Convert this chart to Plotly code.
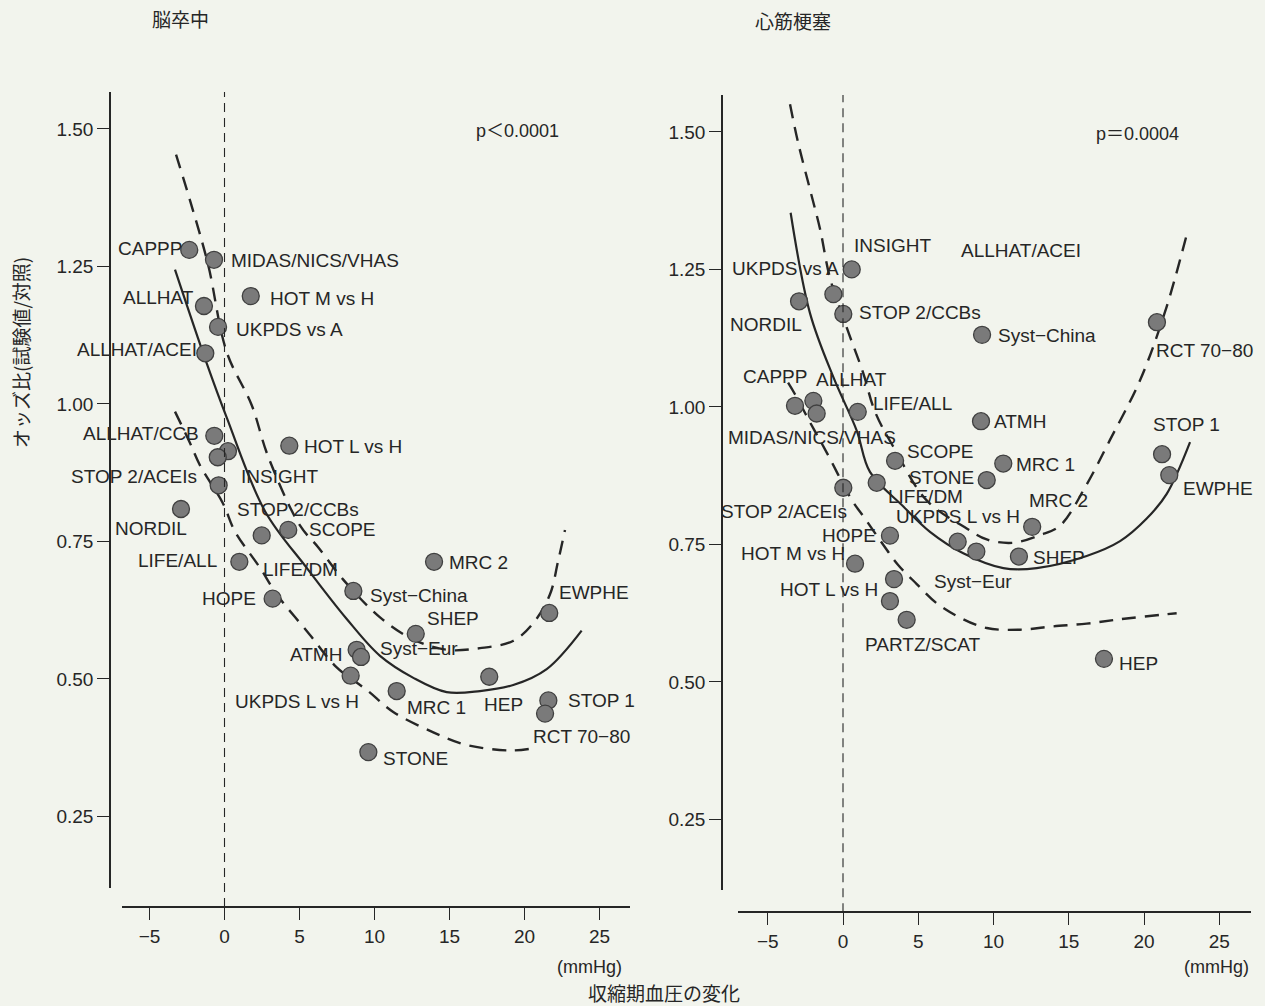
import plotly.graph_objects as go

# ---------------- data ----------------
stroke_names = ["CAPPP", "MIDAS/NICS/VHAS", "ALLHAT", "HOT M vs H", "UKPDS vs A", "ALLHAT/ACEI",
                "ALLHAT/CCB", "HOT L vs H", "INSIGHT", "STOP 2/ACEIs", "STOP 2/CCBs", "NORDIL",
                "LIFE/DM", "SCOPE", "LIFE/ALL", "HOPE", "MRC 2", "Syst\u2212China", "SHEP", "EWPHE",
                "ATMH", "Syst\u2212Eur", "UKPDS L vs H", "MRC 1", "HEP", "STOP 1", "RCT 70\u221280", "STONE"]
stroke_sbp = [-2.35, -0.70, -1.37, 1.75, -0.43, -1.28,
              -0.68, 4.32, 0.23, -0.45, -0.39, -2.90,
              2.48, 4.25, 0.99, 3.21, 13.97, 8.59, 12.75, 21.65,
              8.81, 9.10, 8.41, 11.48, 17.65, 21.59, 21.37, 9.59]
stroke_or = [1.280, 1.262, 1.178, 1.196, 1.140, 1.092,
             0.942, 0.924, 0.914, 0.903, 0.852, 0.809,
             0.761, 0.771, 0.713, 0.646, 0.713, 0.660, 0.582, 0.620,
             0.553, 0.540, 0.506, 0.478, 0.504, 0.461, 0.437, 0.367]

stroke_fit_x = [-3.30, -1.19, 0.15, 2.70, 5.48, 8.15, 10.37, 12.59, 14.81, 17.03, 19.25, 21.48, 23.81]
stroke_fit_y = [1.244, 1.074, 0.975, 0.805, 0.702, 0.609, 0.542, 0.502, 0.476, 0.478, 0.489, 0.518, 0.588]
stroke_up_x = [-3.23, -2.30, -1.10, 0.15, 1.81, 2.90, 5.03, 6.23, 7.90, 10.37, 12.57, 14.83, 17.03,
               19.23, 20.57, 21.70, 22.23, 22.70]
stroke_up_y = [1.453, 1.370, 1.254, 1.094, 0.998, 0.905, 0.779, 0.740, 0.681, 0.612, 0.572, 0.553, 0.556,
               0.569, 0.601, 0.654, 0.713, 0.771]
stroke_lo_x = [-3.30, -2.30, -1.63, -0.10, 0.70, 2.37, 3.48, 5.70, 7.48, 9.48, 11.25, 13.92, 16.15,
               19.03, 20.59]
stroke_lo_y = [0.986, 0.929, 0.888, 0.819, 0.768, 0.702, 0.654, 0.580, 0.521, 0.480, 0.440, 0.403, 0.380,
               0.370, 0.374]

mi_names = ["INSIGHT", "UKPDS vs A", "NORDIL", "STOP 2/CCBs", "Syst\u2212China", "RCT 70\u221280",
            "CAPPP", "ALLHAT", "MIDAS/NICS/VHAS", "LIFE/ALL", "ATMH", "STOP 1", "SCOPE", "MRC 1",
            "STONE", "STOP 2/ACEIs", "LIFE/DM", "EWPHE", "MRC 2", "HOPE", "UKPDS L vs H",
            "Syst\u2212Eur", "SHEP", "HOT M vs H", "HOT L vs H", "ALLHAT/ACEI", "PARTZ/SCAT", "HEP"]
mi_sbp = [0.58, -0.64, -2.92, 0.02, 9.24, 20.86,
          -3.19, -1.97, -1.75, 0.98, 9.17, 21.20, 3.46, 10.65,
          9.55, 0.02, 2.24, 21.68, 12.57, 3.12, 7.62,
          8.86, 11.69, 0.80, 3.39, 3.12, 4.23, 17.34]
mi_or = [1.250, 1.205, 1.192, 1.169, 1.131, 1.154,
         1.002, 1.011, 0.988, 0.991, 0.974, 0.914, 0.902, 0.897,
         0.867, 0.853, 0.862, 0.876, 0.782, 0.766, 0.755,
         0.737, 0.728, 0.715, 0.687, 0.647, 0.613, 0.542]

mi_fit_x = [-3.48, -2.19, -0.64, 0.91, 1.79, 4.01, 5.78, 7.99, 10.65, 12.87, 16.19, 18.41, 20.18, 21.51, 23.06]
mi_fit_y = [1.353, 1.170, 1.054, 0.957, 0.882, 0.819, 0.773, 0.734, 0.707, 0.707, 0.729, 0.756, 0.797, 0.842, 0.936]
mi_up_x = [-3.52, -2.97, -2.19, -1.53, -0.86, 0.25, 1.35, 2.13, 3.46, 5.56, 8.22, 9.55, 11.30, 13.09,
           14.42, 16.19, 17.74, 19.73, 21.40, 22.79]
mi_up_y = [1.550, 1.479, 1.395, 1.324, 1.234, 1.144, 1.061, 0.991, 0.922, 0.830, 0.779, 0.759, 0.753, 0.767,
           0.784, 0.859, 0.940, 1.048, 1.173, 1.308]
mi_lo_x = [-3.65, -3.19, -2.13, -1.08, 0.58, 1.33, 2.66, 3.65, 4.90, 6.23, 7.77, 9.55, 11.76, 13.95,
           16.19, 18.41, 22.17]
mi_lo_y = [1.044, 1.023, 0.969, 0.917, 0.831, 0.802, 0.750, 0.713, 0.678, 0.643, 0.617, 0.598, 0.595, 0.601,
           0.606, 0.614, 0.625]

x_ticks = [-5, 0, 5, 10, 15, 20, 25]
y_ticks = [0.25, 0.50, 0.75, 1.00, 1.25, 1.50]

# ---------------- label placement (screen px: anchor, dx, dy-down) ----------------
stroke_lbl = {
    "CAPPP": ("right", -6, -1), "MIDAS/NICS/VHAS": ("left", 16, 1), "ALLHAT": ("right", -9, -8),
    "HOT M vs H": ("left", 18, 2), "UKPDS vs A": ("left", 17, 3), "ALLHAT/ACEI": ("right", -7, -4),
    "ALLHAT/CCB": ("right", -14, -2), "HOT L vs H": ("left", 14, 1), "STOP 2/ACEIs": ("right", -20, 19),
    "INSIGHT": ("left", 12, 25), "STOP 2/CCBs": ("left", 17, 24), "NORDIL": ("right", 7, 20),
    "SCOPE": ("left", 20, 0), "LIFE/ALL": ("right", -21, -1), "LIFE/DM": ("left", 0, 34),
    "HOPE": ("right", -16, 0), "MRC 2": ("left", 14, 1), "Syst\u2212China": ("left", 16, 5),
    "SHEP": ("left", 10, -15), "EWPHE": ("left", 9, -20), "ATMH": ("right", -14, 5),
    "Syst\u2212Eur": ("left", 18, -8), "UKPDS L vs H": ("right", 9, 26), "MRC 1": ("left", 9, 16),
    "HEP": ("left", -6, 28), "STOP 1": ("left", 19, 0), "RCT 70\u221280": ("left", -13, 23),
    "STONE": ("left", 14, 6),
}
mi_lbl = {
    "INSIGHT": ("left", 1, -24), "ALLHAT/ACEI": ("left", 70, -351), "UKPDS vs A": ("right", 7, -26),
    "NORDIL": ("right", 4, 23), "STOP 2/CCBs": ("left", 15, -1), "Syst\u2212China": ("left", 15, 1),
    "RCT 70\u221280": ("left", -2, 28), "CAPPP": ("right", 13, -29), "ALLHAT": ("left", 2, -21),
    "LIFE/ALL": ("left", 14, -8), "MIDAS/NICS/VHAS": ("left", -90, 24), "ATMH": ("left", 12, 0),
    "STOP 1": ("left", -10, -30), "SCOPE": ("left", 11, -9), "MRC 1": ("left", 12, 1),
    "STONE": ("right", -12, -3), "LIFE/DM": ("left", 10, 14), "EWPHE": ("left", 13, 13),
    "MRC 2": ("left", -4, -26), "STOP 2/ACEIs": ("right", 5, 24), "UKPDS L vs H": ("left", -63, -25),
    "HOPE": ("right", -13, 0), "HOT M vs H": ("right", -9, -10), "SHEP": ("left", 13, 1),
    "Syst\u2212Eur": ("left", -43, 30), "HOT L vs H": ("right", -15, 10), "PARTZ/SCAT": ("left", -43, 25),
    "HEP": ("left", 14, 5),
}

# ---------------- style ----------------
W, H = 1265, 1006
BG = "#f2f4ed"
INK = "#262626"
FONT = "Liberation Sans, Arial, Noto Sans CJK JP, sans-serif"
CJK = "Noto Sans CJK JP, sans-serif"

def px(p):
    return p / W

def py(p):
    return 1 - p / H

fig = go.Figure()

def add_panel(xa, ya, names, xs, ys, fit, up, lo, lbl):
    line_kw = dict(xaxis=xa, yaxis=ya, mode="lines", hoverinfo="skip", showlegend=False)
    fig.add_trace(go.Scatter(x=fit[0], y=fit[1], line=dict(color=INK, width=2.2, shape="spline"), **line_kw))
    fig.add_trace(go.Scatter(x=up[0], y=up[1], line=dict(color=INK, width=2.4, dash="14px,9px", shape="spline"), **line_kw))
    fig.add_trace(go.Scatter(x=lo[0], y=lo[1], line=dict(color=INK, width=2.4, dash="14px,9px", shape="spline"), **line_kw))
    fig.add_trace(go.Scatter(x=xs, y=ys, xaxis=xa, yaxis=ya, mode="markers", showlegend=False,
                             text=names, hoverinfo="text",
                             marker=dict(size=17, color="#7a7a7a", line=dict(color="#404040", width=1.3))))
    xr = "x" if xa == "x" else "x2"
    yr = "y" if ya == "y" else "y2"
    for n, xv, yv in zip(names, xs, ys):
        anc, dx, dy = lbl[n]
        fig.add_annotation(x=xv, y=yv, xref=xr, yref=yr, text=n, showarrow=False,
                           xanchor=anc, yanchor="middle", xshift=dx, yshift=-dy,
                           font=dict(family=FONT, size=19, color=INK), borderpad=0)

add_panel("x", "y", stroke_names, stroke_sbp, stroke_or,
          (stroke_fit_x, stroke_fit_y), (stroke_up_x, stroke_up_y), (stroke_lo_x, stroke_lo_y), stroke_lbl)
add_panel("x2", "y2", mi_names, mi_sbp, mi_or,
          (mi_fit_x, mi_fit_y), (mi_up_x, mi_up_y), (mi_lo_x, mi_lo_y), mi_lbl)

axis_common = dict(showline=True, linecolor=INK, linewidth=1.6, ticks="outside", ticklen=12,
                   tickwidth=1.4, tickcolor=INK, showgrid=False, zeroline=False,
                   tickfont=dict(family=FONT, size=19, color=INK))

fig.update_layout(
    width=W, height=H,
    margin=dict(l=0, r=0, t=0, b=0),
    paper_bgcolor=BG, plot_bgcolor=BG,
    showlegend=False,
    xaxis=dict(domain=[px(122), px(630)], range=[(122 - 224.5) / 15, (630 - 224.5) / 15],
               anchor="free", position=py(907), tickvals=x_ticks, **axis_common),
    yaxis=dict(domain=[py(888), py(92)], range=[0.12, 1.567],
               anchor="free", position=px(110), tickvals=y_ticks, tickformat=".2f", **axis_common),
    xaxis2=dict(domain=[px(738), px(1251)], range=[(738 - 843) / 15.05, (1251 - 843) / 15.05],
                anchor="free", position=py(912), tickvals=x_ticks, **axis_common),
    yaxis2=dict(domain=[py(890), py(95)], range=[0.1218, 1.567],
                anchor="free", position=px(722), tickvals=y_ticks, tickformat=".2f", **axis_common),
)

# zero reference lines
fig.add_shape(type="line", xref="x", yref="y domain", x0=0, x1=0, y0=-0.024, y1=1,
              line=dict(color=INK, width=1.1, dash="9px,6px"))
fig.add_shape(type="line", xref="x2", yref="y2 domain", x0=0, x1=0, y0=-0.028, y1=1,
              line=dict(color=INK, width=1.1, dash="9px,6px"))

def txt(x, y, s, size=19, family=FONT, **kw):
    fig.add_annotation(x=px(x), y=py(y), xref="paper", yref="paper", text=s, showarrow=False,
                       xanchor="center", yanchor="middle",
                       font=dict(family=family, size=size, color=INK), **kw)

txt(180, 19, "脳卒中", size=19, family=CJK)
txt(793, 20, "心筋梗塞", size=19, family=CJK)
txt(517, 131, "p＜0.0001", size=18)
txt(1137, 134, "p＝0.0004", size=18)
txt(589, 967, "(mmHg)", size=18)
txt(1216, 967, "(mmHg)", size=18)
txt(664, 992, "収縮期血圧の変化", size=19, family=CJK)
txt(20, 353, "オッズ比(試験値/対照)", size=19, family=CJK, textangle=-90)

fig.write_html("out.html", config={"displayModeBar": False},
               post_script="document.body.style.margin='0';document.body.style.overflow='hidden';")
